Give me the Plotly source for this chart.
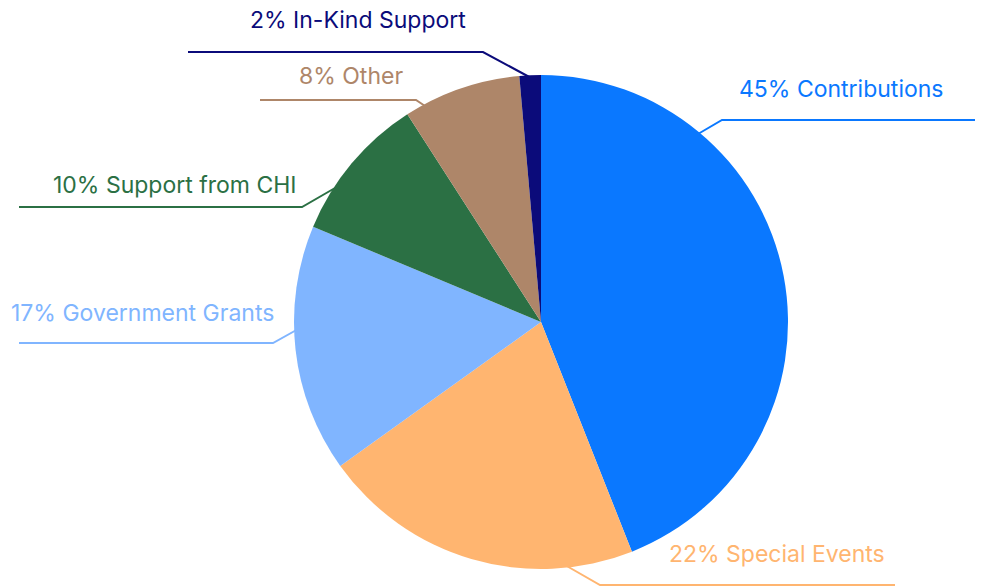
import plotly.graph_objects as go

W, H = 981, 588

categories = ["Contributions", "Special Events", "Government Grants",
              "Support from CHI", "Other", "In-Kind Support"]
# slice shares
values = [44.0, 21.1, 16.2, 9.6, 7.7, 1.4]
# percentages printed in the labels
label_pct = [45, 22, 17, 10, 8, 2]
colors = ["#0A78FF", "#FFB570", "#80B5FF", "#2B7044", "#AE8669", "#0B0B7A"]

# label layout (window pixel positions): text centre and leader polyline
label_pos = [(841, 89), (777, 554), (142, 313), (175, 185), (351, 76), (358, 20)]
leaders = [
    [(975, 120), (722, 120), (698, 134)],
    [(895, 585), (600, 585), (565, 565)],
    [(19, 343), (273, 343), (300, 328)],
    [(19, 207), (302, 207), (335, 188)],
    [(260, 100), (416, 100), (428, 108)],
    [(188, 52), (483, 52), (533, 79)],
]


def px(x, y):
    return x / W, 1 - y / H


cx, cy, r = 541, 322, 247
x0, y0 = px(cx - r, cy + r)
x1, y1 = px(cx + r, cy - r)

fig = go.Figure(go.Pie(
    labels=categories, values=values, sort=False,
    direction="clockwise", rotation=0,
    marker=dict(colors=colors, line=dict(width=0)),
    textinfo="none", hoverinfo="label",
    domain=dict(x=[x0, x1], y=[y0, y1]),
    showlegend=False,
))

shapes = []
annotations = []
for cat, p, col, (tx, ty), pts in zip(categories, label_pct, colors, label_pos, leaders):
    path = ""
    for i, (x, y) in enumerate(pts):
        X, Y = px(x, y)
        path += ("M" if i == 0 else "L") + f"{X},{Y} "
    shapes.append(dict(type="path", xref="paper", yref="paper", path=path.strip(),
                       line=dict(color=col, width=2), layer="below"))
    X, Y = px(tx, ty)
    annotations.append(dict(text=f"{p}% {cat}", x=X, y=Y, xref="paper", yref="paper",
                            xanchor="center", yanchor="middle", showarrow=False,
                            font=dict(color=col, size=23, family="Inter")))

fig.update_layout(
    width=W, height=H, margin=dict(l=0, r=0, t=0, b=0),
    paper_bgcolor="white", plot_bgcolor="white",
    shapes=shapes, annotations=annotations,
)

fig.write_html("out.html", config={"displayModeBar": False},
               post_script="document.body.style.margin='0px';document.body.style.overflow='hidden';")
